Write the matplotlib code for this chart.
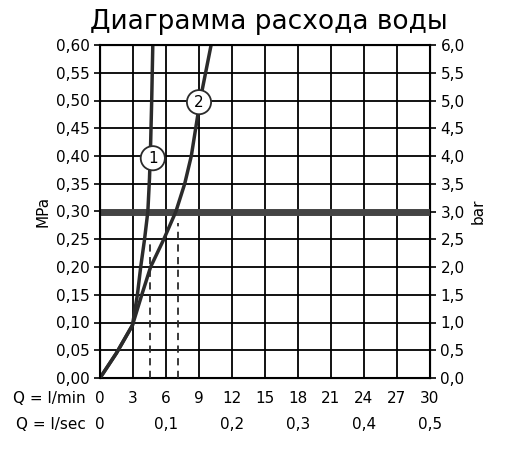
import matplotlib
matplotlib.use("Agg")
import matplotlib.pyplot as plt
import numpy as np

# data (x in l/min, y in MPa)
curve1_x = [0, 1.5, 2.95, 3.4, 3.7, 4.05, 4.35, 4.5, 4.6, 4.7, 4.8]
curve1_y = [0, 0.045, 0.095, 0.15, 0.20, 0.25, 0.30, 0.36, 0.42, 0.50, 0.60]
curve2_x = [0, 1.5, 2.95, 3.8, 4.6, 5.8, 6.9, 7.7, 8.3, 8.7, 9.1, 9.6, 10.1]
curve2_y = [0, 0.045, 0.095, 0.15, 0.20, 0.25, 0.30, 0.35, 0.40, 0.45, 0.50, 0.55, 0.60]
dash_x = [4.5, 7.1]
dash_top = [0.25, 0.28]
labels = [("1", 4.8, 0.396), ("2", 9.0, 0.497)]
x_ticks = list(range(0, 31, 3))
sec_ticks = [0, 0.1, 0.2, 0.3, 0.4, 0.5]
y_ticks = np.arange(0, 0.601, 0.05)

plt.rcParams["font.family"] = ["DejaVu Sans"]
fig = plt.figure(figsize=(5.08, 4.63), dpi=100)
ax = fig.add_axes([100 / 508, 85 / 463, 330 / 508, 333 / 463])
dark = "#2b2b2b"
fs = 11

ax.set_xlim(0, 30)
ax.set_ylim(0, 0.6)
ax.set_xticks(x_ticks)
ax.set_yticks(y_ticks)
ax.set_xticklabels([])
ax.set_yticklabels([f"{v:.2f}".replace(".", ",") for v in y_ticks], fontsize=fs)
ax.grid(True, color="black", linewidth=1.3)
ax.tick_params(axis="y", length=4, width=1.2)
ax.tick_params(axis="x", length=0)
for s in ax.spines.values():
    s.set_linewidth(1.5)

ax2 = ax.twinx()
ax2.set_ylim(0, 6)
ax2.set_yticks(y_ticks * 10)
ax2.set_yticklabels([f"{v * 10:.1f}".replace(".", ",") for v in y_ticks], fontsize=fs)
ax2.tick_params(axis="y", length=4, width=1.2)
ax2.set_ylabel("bar", fontsize=fs, labelpad=4)
ax.set_ylabel("MPa", fontsize=fs, labelpad=4)

ax.axhline(0.30, color="#444444", linewidth=5, zorder=3)
ax.plot(curve1_x, curve1_y, color=dark, linewidth=2.5, zorder=4)
ax.plot(curve2_x, curve2_y, color=dark, linewidth=2.5, zorder=4)
for x, top in zip(dash_x, dash_top):
    ax.plot([x, x], [0, top], color=dark, linewidth=1.3, linestyle=(0, (4, 3)), zorder=4)
for txt, x, y in labels:
    ax.text(x, y, txt, ha="center", va="center", fontsize=fs, zorder=6,
            bbox=dict(boxstyle="circle,pad=0.3", fc="white", ec=dark, lw=1.3))

# bottom scales
for v in x_ticks:
    ax.text(v, -0.037, str(v), ha="center", va="center", fontsize=fs)
for v in sec_ticks:
    ax.text(v * 60, -0.083, str(v).replace(".", ",") if v else "0",
            ha="center", va="center", fontsize=fs)
ax.text(-1.3, -0.037, "Q = l/min", ha="right", va="center", fontsize=fs)
ax.text(-1.3, -0.083, "Q = l/sec", ha="right", va="center", fontsize=fs)

fig.text(0.53, 0.952, "Диаграмма расхода воды", ha="center", va="center", fontsize=19)
fig.savefig("out.png", dpi=100)
